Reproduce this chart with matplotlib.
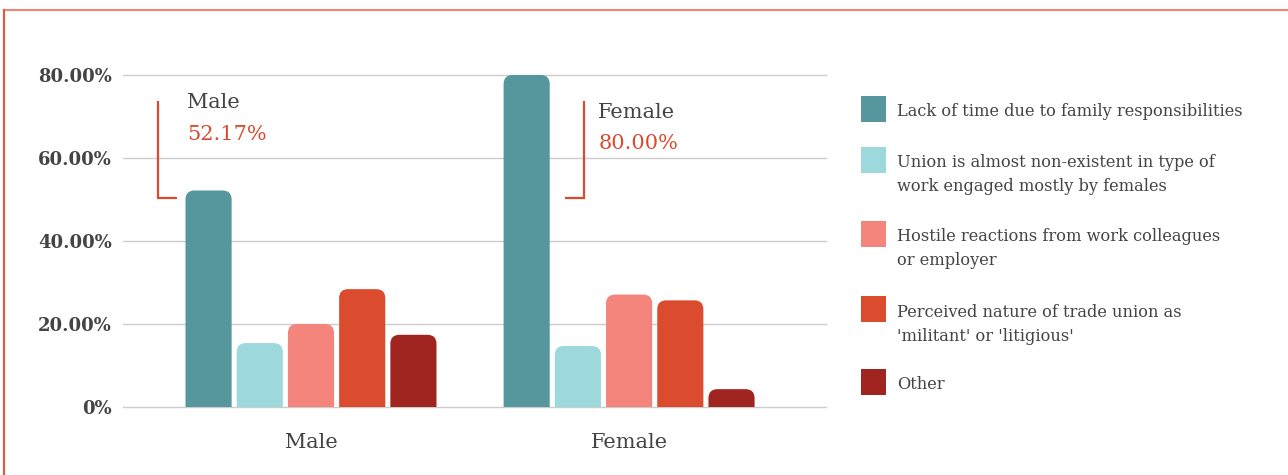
import matplotlib
matplotlib.use('Agg')
import matplotlib.pyplot as plt
from matplotlib.patches import FancyBboxPatch, Rectangle
from matplotlib.lines import Line2D
import numpy as np

# 数据
groups = ['Male', 'Female']
reasons = [
    'Lack of time due to family responsibilities',
    'Union is almost non-existent in type of\nwork engaged mostly by females',
    'Hostile reactions from work colleagues\nor employer',
    "Perceived nature of trade union as\n'militant' or 'litigious'",
    'Other',
]
male = [52.17, 15.4, 20.0, 28.4, 17.4]
female = [80.0, 14.7, 27.1, 25.7, 4.3]
colors = ['#55979c', '#9dd8dc', '#f4857c', '#db4c2e', '#a02521']
yticks = [0, 20, 40, 60, 80]
ytick_labels = ['0%', '20.00%', '40.00%', '60.00%', '80.00%']

plt.rcParams['font.family'] = ['DejaVu Serif']
text_col = '#444444'
accent = '#d94a2f'

W, H = 1288, 475
fig = plt.figure(figsize=(W / 100, H / 100), dpi=100)
ax = fig.add_axes([123 / W, 1 - 407 / H, (826 - 123) / W, (407 - 75) / H])

step = 0.161
width = 0.145
xlim = (-0.591, 1.619)
ylim = (0, 80)
ax.set_xlim(*xlim)
ax.set_ylim(*ylim)

# 网格线（含0线）
for t in yticks:
    ax.axhline(t, color='#cccccc', linewidth=1, zorder=1, clip_on=False)

# 圆角柱子
px_x = (826 - 123) / (xlim[1] - xlim[0])
px_y = (407 - 75) / (ylim[1] - ylim[0])
aspect = px_x / px_y
r = 9 / px_x
for g, vals in enumerate([male, female]):
    for i, v in enumerate(vals):
        x0 = g + (i - 2) * step - width / 2
        p = FancyBboxPatch((x0, -10), width, v + 10,
                           boxstyle='round,pad=0,rounding_size=%f' % r,
                           mutation_aspect=aspect,
                           facecolor=colors[i], edgecolor='none', zorder=3)
        ax.add_patch(p)

ax.set_yticks(yticks)
ax.set_yticklabels(ytick_labels, fontsize=13, fontweight='bold', color=text_col)
ax.set_xticks([0, 1])
ax.set_xticklabels(groups, fontsize=15, color=text_col)
ax.tick_params(axis='y', length=0, pad=8)
ax.tick_params(axis='x', length=0, pad=19)
for s in ax.spines.values():
    s.set_visible(False)

# 标注
brackets = [(-0.481, -0.421, -0.390, 72.0, 64.3, 'Male', '52.17%'),
            (0.858, 0.799, 0.903, 69.6, 62.2, 'Female', '80.00%')]
for xv, xh, xt, y1, y2, name, pct in brackets:
    ax.plot([xh, xv, xv], [50.4, 50.4, 73.7], color=accent, lw=1.6, zorder=4,
            solid_capstyle='butt', solid_joinstyle='miter')
    ax.text(xt, y1, name, fontsize=15, color=text_col, va='baseline')
    ax.text(xt, y2, pct, fontsize=15, color=accent, va='baseline')

# 图例
sq_tops = [96, 147, 221, 296, 369]
baselines = [[116], [167, 191], [241, 265], [317, 341], [389]]
for i, lab in enumerate(reasons):
    fig.patches.append(Rectangle((861 / W, 1 - (sq_tops[i] + 26) / H), 25 / W, 26 / H,
                                 transform=fig.transFigure, facecolor=colors[i],
                                 edgecolor='none'))
    for line, b in zip(lab.split('\n'), baselines[i]):
        fig.text(897 / W, 1 - b / H, line, fontsize=11.7, color=text_col, va='baseline')

# 边框
fig.lines.append(Line2D([4 / W, 1], [1 - 10 / H, 1 - 10 / H], transform=fig.transFigure,
                        color='#f08670', lw=1.5))
fig.lines.append(Line2D([4 / W, 4 / W], [0, 1 - 10 / H], transform=fig.transFigure,
                        color='#e8553a', lw=1.5))

fig.savefig('out.png', dpi=100)
